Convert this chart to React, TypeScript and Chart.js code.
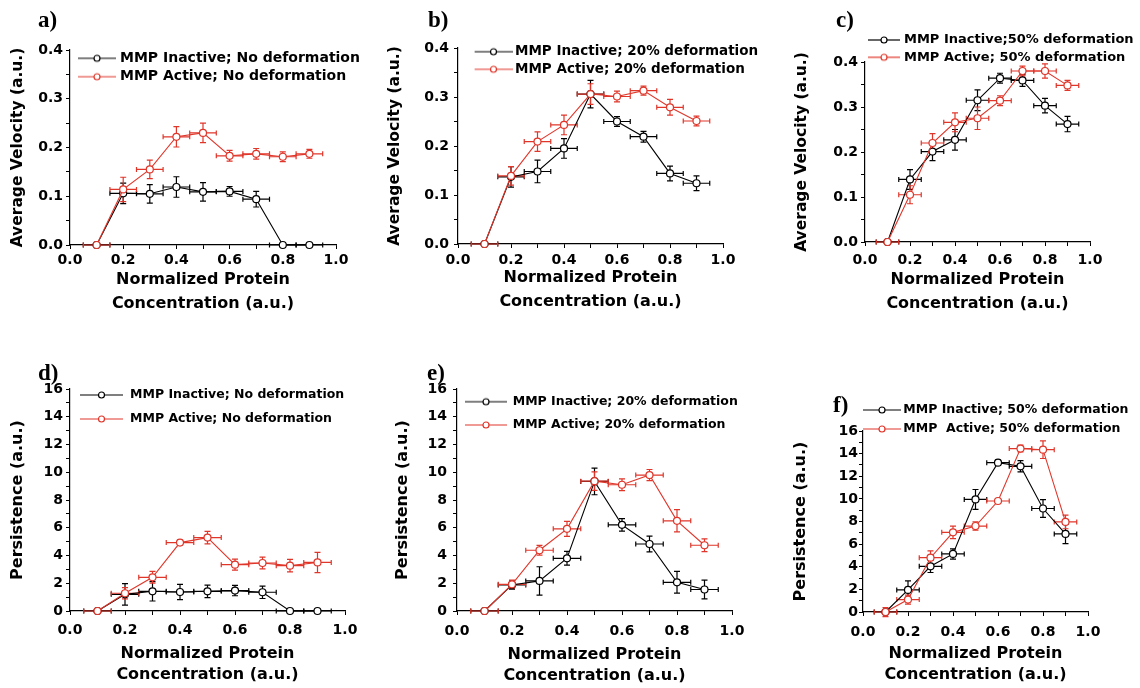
import React, { useEffect, useRef } from 'react';
import { Chart, registerables } from 'chart.js';

Chart.register(...registerables);

const FONT = "'DejaVu Sans', 'Liberation Sans', sans-serif";
const BLACK = '#000000';
const RED = '#e0362a';

// ---------- data ----------
const concentration = [0.1, 0.2, 0.3, 0.4, 0.5, 0.6, 0.7, 0.8, 0.9];
const concentrationErr = [0.05, 0.05, 0.05, 0.05, 0.05, 0.05, 0.05, 0.05, 0.05];

const concentrationTicks = ['0.0', '0.2', '0.4', '0.6', '0.8', '1.0'];
const velocityTicks = ['0.0', '0.1', '0.2', '0.3', '0.4'];
const persistenceTicks = ['0', '2', '4', '6', '8', '10', '12', '14', '16'];

// a) velocity, no deformation
const velNoDefInactive = [0, 0.106, 0.105, 0.119, 0.109, 0.110, 0.094, 0, 0];
const velNoDefInactiveErr = [0, 0.021, 0.019, 0.021, 0.019, 0.010, 0.016, 0, 0];
const velNoDefActive = [0, 0.114, 0.155, 0.222, 0.230, 0.183, 0.187, 0.181, 0.187];
const velNoDefActiveErr = [0, 0.025, 0.019, 0.021, 0.020, 0.011, 0.011, 0.010, 0.009];

// b) velocity, 20% deformation
const vel20Inactive = [0, 0.137, 0.148, 0.195, 0.306, 0.250, 0.219, 0.144, 0.124];
const vel20InactiveErr = [0, 0.021, 0.023, 0.020, 0.028, 0.010, 0.011, 0.015, 0.015];
const vel20Active = [0, 0.139, 0.209, 0.243, 0.306, 0.301, 0.313, 0.279, 0.251];
const vel20ActiveErr = [0, 0.019, 0.020, 0.020, 0.021, 0.011, 0.009, 0.016, 0.010];

// c) velocity, 50% deformation
const vel50Inactive = [0, 0.139, 0.201, 0.227, 0.315, 0.364, 0.359, 0.303, 0.262];
const vel50InactiveErr = [0, 0.022, 0.020, 0.023, 0.023, 0.011, 0.013, 0.016, 0.017];
const vel50Active = [0, 0.105, 0.220, 0.266, 0.275, 0.314, 0.380, 0.380, 0.348];
const vel50ActiveErr = [0, 0.020, 0.021, 0.021, 0.025, 0.011, 0.011, 0.016, 0.011];

// d) persistence, no deformation
const perNoDefInactive = [0, 1.2, 1.42, 1.37, 1.42, 1.47, 1.35, 0, 0];
const perNoDefInactiveErr = [0, 0.78, 0.7, 0.55, 0.45, 0.37, 0.45, 0, 0];
const perNoDefActive = [0, 1.28, 2.43, 4.93, 5.29, 3.34, 3.46, 3.27, 3.5];
const perNoDefActiveErr = [0, 0.4, 0.42, 0.18, 0.45, 0.4, 0.43, 0.45, 0.73];

// e) persistence, 20% deformation
const per20Inactive = [0, 1.88, 2.17, 3.8, 9.34, 6.21, 4.83, 2.07, 1.55];
const per20InactiveErr = [0, 0.3, 1.02, 0.5, 0.96, 0.45, 0.57, 0.78, 0.67];
const per20Active = [0, 1.92, 4.38, 5.92, 9.36, 9.1, 9.8, 6.5, 4.74];
const per20ActiveErr = [0, 0.3, 0.35, 0.54, 0.66, 0.42, 0.4, 0.8, 0.46];

// f) persistence, 50% deformation
const per50Inactive = [0, 1.95, 4.04, 5.13, 9.95, 13.2, 12.88, 9.15, 6.9];
const per50InactiveErr = [0, 0.8, 0.55, 0.45, 0.88, 0.22, 0.5, 0.78, 0.85];
const per50Active = [0, 1.1, 4.8, 7.04, 7.6, 9.81, 14.45, 14.35, 7.96];
const per50ActiveErr = [0.4, 0.4, 0.6, 0.55, 0.37, 0.15, 0.3, 0.78, 0.6];

// ---------- layout ----------
const Y_AXIS_W = 75;
const TICK_LEN = 4;
const TICK_FONT = 14;

type Series = { label: string; values: number[]; errors: number[]; color: string };
type Panel = {
  tag: string;
  tagPos: [number, number];
  L: number; R: number; T: number; B: number;
  yMax: number; yStep: number; yTicks: string[];
  yTitle: string; yTitleSize: number; yTitleGap: number; yTickGap: number;
  xTitleLH: number; xTitle2: number; xTickCenter: number;
  padTop: number; padRight: number;
  legend: { x0: number; Ll: number; g: number; yc1: number; s: number; f: number };
  series: Series[];
};

const panels: Panel[] = [
  {
    tag: 'a)', tagPos: [38, 8],
    L: 70, R: 336, T: 50, B: 245,
    yMax: 0.4, yStep: 0.05, yTicks: velocityTicks,
    yTitle: 'Average Velocity (a.u.)', yTitleSize: 15.5, yTitleGap: 52, yTickGap: 7,
    xTitleLH: 1.5, xTitle2: 59, xTickCenter: 15,
    padTop: 20, padRight: 30,
    legend: { x0: 78, Ll: 38, g: 4, yc1: 58.3, s: 18.4, f: 14 },
    series: [
      { label: 'MMP Inactive; No deformation', values: velNoDefInactive, errors: velNoDefInactiveErr, color: BLACK },
      { label: 'MMP Active; No deformation', values: velNoDefActive, errors: velNoDefActiveErr, color: RED },
    ],
  },
  {
    tag: 'b)', tagPos: [428, 8],
    L: 458, R: 723, T: 48, B: 244,
    yMax: 0.4, yStep: 0.05, yTicks: velocityTicks,
    yTitle: 'Average Velocity (a.u.)', yTitleSize: 15.5, yTitleGap: 63, yTickGap: 9,
    xTitleLH: 1.5, xTitle2: 58, xTickCenter: 16,
    padTop: 20, padRight: 40,
    legend: { x0: 474, Ll: 39, g: 2, yc1: 51.7, s: 17.6, f: 13.5 },
    series: [
      { label: 'MMP Inactive; 20% deformation', values: vel20Inactive, errors: vel20InactiveErr, color: BLACK },
      { label: 'MMP Active; 20% deformation', values: vel20Active, errors: vel20ActiveErr, color: RED },
    ],
  },
  {
    tag: 'c)', tagPos: [836, 8],
    L: 865, R: 1090, T: 62, B: 242,
    yMax: 0.4, yStep: 0.05, yTicks: velocityTicks,
    yTitle: 'Average Velocity (a.u.)', yTitleSize: 15.5, yTitleGap: 63, yTickGap: 7,
    xTitleLH: 1.5, xTitle2: 62, xTickCenter: 18,
    padTop: 34, padRight: 50,
    legend: { x0: 868, Ll: 32, g: 4, yc1: 40, s: 17.3, f: 13 },
    series: [
      { label: 'MMP Inactive;50% deformation', values: vel50Inactive, errors: vel50InactiveErr, color: BLACK },
      { label: 'MMP Active; 50% deformation', values: vel50Active, errors: vel50ActiveErr, color: RED },
    ],
  },
  {
    tag: 'd)', tagPos: [38, 361],
    L: 70, R: 345, T: 389, B: 611,
    yMax: 16, yStep: 1, yTicks: persistenceTicks,
    yTitle: 'Persistence (a.u.)', yTitleSize: 16, yTitleGap: 52, yTickGap: 7,
    xTitleLH: 1.3125, xTitle2: 63, xTickCenter: 19,
    padTop: 20, padRight: 25,
    legend: { x0: 80, Ll: 43, g: 7, yc1: 395, s: 24, f: 12.5 },
    series: [
      { label: 'MMP Inactive; No deformation', values: perNoDefInactive, errors: perNoDefInactiveErr, color: BLACK },
      { label: 'MMP Active; No deformation', values: perNoDefActive, errors: perNoDefActiveErr, color: RED },
    ],
  },
  {
    tag: 'e)', tagPos: [427, 361],
    L: 457, R: 732, T: 389, B: 611,
    yMax: 16, yStep: 1, yTicks: persistenceTicks,
    yTitle: 'Persistence (a.u.)', yTitleSize: 16, yTitleGap: 54, yTickGap: 10,
    xTitleLH: 1.3125, xTitle2: 64, xTickCenter: 20,
    padTop: 20, padRight: 25,
    legend: { x0: 465, Ll: 42, g: 5.7, yc1: 401.7, s: 23.3, f: 12.5 },
    series: [
      { label: 'MMP Inactive; 20% deformation', values: per20Inactive, errors: per20InactiveErr, color: BLACK },
      { label: 'MMP Active; 20% deformation', values: per20Active, errors: per20ActiveErr, color: RED },
    ],
  },
  {
    tag: 'f)', tagPos: [833, 393],
    L: 863, R: 1088, T: 431, B: 612,
    yMax: 16, yStep: 1, yTicks: persistenceTicks,
    yTitle: 'Persistence (a.u.)', yTitleSize: 16, yTitleGap: 62, yTickGap: 5,
    xTitleLH: 1.3125, xTitle2: 62, xTickCenter: 20,
    padTop: 35, padRight: 50,
    legend: { x0: 863, Ll: 38, g: 2.3, yc1: 410, s: 19, f: 12.5 },
    series: [
      { label: 'MMP Inactive; 50% deformation', values: per50Inactive, errors: per50InactiveErr, color: BLACK },
      { label: 'MMP  Active; 50% deformation', values: per50Active, errors: per50ActiveErr, color: RED },
    ],
  },
];

// ---------- plugins ----------
const errorBarPlugin = {
  id: 'errorBars',
  beforeDatasetsDraw(chart: any) {
    const { ctx } = chart;
    const xs = chart.scales.x;
    const ys = chart.scales.y;
    ctx.save();
    chart.data.datasets.forEach((ds: any) => {
      ctx.strokeStyle = ds.borderColor;
      ctx.lineWidth = 1.2;
      ds.data.forEach((pt: any, i: number) => {
        const px = xs.getPixelForValue(pt.x);
        const py = ys.getPixelForValue(pt.y);
        const xe = ds.xErr[i];
        const ye = ds.yErr[i];
        ctx.beginPath();
        if (xe > 0) {
          const x1 = xs.getPixelForValue(pt.x - xe);
          const x2 = xs.getPixelForValue(pt.x + xe);
          ctx.moveTo(x1, py); ctx.lineTo(x2, py);
          ctx.moveTo(x1, py - 2.5); ctx.lineTo(x1, py + 2.5);
          ctx.moveTo(x2, py - 2.5); ctx.lineTo(x2, py + 2.5);
        }
        if (ye > 0) {
          const y1 = ys.getPixelForValue(pt.y - ye);
          const y2 = ys.getPixelForValue(pt.y + ye);
          ctx.moveTo(px, y1); ctx.lineTo(px, y2);
          ctx.moveTo(px - 3, y1); ctx.lineTo(px + 3, y1);
          ctx.moveTo(px - 3, y2); ctx.lineTo(px + 3, y2);
        }
        ctx.stroke();
      });
    });
    ctx.restore();
  },
};

const legendPlacePlugin = {
  id: 'legendPlace',
  afterLayout(chart: any, _args: any, opts: any) {
    const lg = chart.legend;
    if (!lg || opts.left === undefined) return;
    const h = lg.height;
    lg.left = opts.left;
    lg.top = opts.top;
    lg.width = 2000;
    lg.right = opts.left + 2000;
    lg.bottom = opts.top + h;
  },
};

function makeIcon(color: string, width: number) {
  const c = document.createElement('canvas');
  c.width = Math.round(width);
  c.height = 10;
  const ctx = c.getContext('2d')!;
  ctx.strokeStyle = color;
  ctx.lineWidth = 1.2;
  ctx.beginPath();
  ctx.moveTo(0, 5);
  ctx.lineTo(c.width, 5);
  ctx.stroke();
  ctx.beginPath();
  ctx.arc(c.width / 2, 5, 3, 0, Math.PI * 2);
  ctx.fillStyle = '#ffffff';
  ctx.fill();
  ctx.stroke();
  return c;
}

function tickLabel(list: string[]) {
  return (value: any) => {
    const v = Number(value);
    const found = list.find((t) => Math.abs(parseFloat(t) - v) < 1e-6);
    return found ?? '';
  };
}

function PanelChart({ p }: { p: Panel }) {
  const ref = useRef<HTMLCanvasElement>(null);
  const cx = p.L - Y_AXIS_W;
  const xTitleSize = 16;
  const xlh = xTitleSize * p.xTitleLH;
  const H = Math.round(p.xTitle2 + xlh / 2);
  const w = Y_AXIS_W + (p.R - p.L) + p.padRight;
  const h = p.padTop + (p.B - p.T) + H;
  const cy = p.T - p.padTop;

  useEffect(() => {
    const canvas = ref.current;
    if (!canvas) return;
    const lg = p.legend;
    const pad = lg.s - lg.f;
    const W = lg.Ll + 2 * lg.g - lg.f;
    const boxLeft = lg.x0 + lg.Ll / 2 - W / 2;
    const legendLeft = boxLeft - pad - cx;
    const legendTop = lg.yc1 - pad - lg.f / 2 - cy;
    const icons = p.series.map((s) => makeIcon(s.color, lg.Ll));

    const datasets = p.series.map((s, i) => ({
      label: s.label,
      data: concentration.map((x, k) => ({ x, y: s.values[k] })),
      xErr: concentrationErr,
      yErr: s.errors,
      borderColor: s.color,
      backgroundColor: s.color,
      borderWidth: 1.1,
      pointRadius: 3.5,
      pointBorderWidth: 1.2,
      pointBackgroundColor: '#ffffff',
      pointBorderColor: s.color,
      tension: 0,
      clip: false as any,
      order: i === 0 ? 1 : 0,
    }));

    const yTitleLH = p.yTitleSize * 1.2;
    const tickFont = { family: FONT, weight: 'bold' as const, size: TICK_FONT };

    const chart = new Chart(canvas, {
      type: 'line',
      data: { datasets: datasets as any },
      plugins: [errorBarPlugin, legendPlacePlugin],
      options: {
        responsive: false,
        animation: false,
        events: [],
        layout: { padding: { top: p.padTop, right: p.padRight, left: 0, bottom: 0 } },
        scales: {
          x: {
            type: 'linear',
            min: 0,
            max: 1,
            afterFit: (s: any) => { s.height = H; },
            ticks: {
              stepSize: 0.1,
              autoSkip: false,
              maxRotation: 0,
              minRotation: 0,
              padding: p.xTickCenter - TICK_LEN - (TICK_FONT * 1.2) / 2,
              color: BLACK,
              font: tickFont,
              callback: tickLabel(concentrationTicks),
            },
            grid: { display: true, drawOnChartArea: false, drawTicks: true, tickLength: TICK_LEN, color: BLACK, lineWidth: 1 },
            border: { display: true, color: BLACK, width: 1.2 },
            title: {
              display: true,
              text: ['Normalized Protein', 'Concentration (a.u.)'],
              color: BLACK,
              font: { family: FONT, weight: 'bold', size: xTitleSize, lineHeight: p.xTitleLH },
              padding: { top: 0, bottom: 0 },
            },
          },
          y: {
            type: 'linear',
            min: 0,
            max: p.yMax,
            afterFit: (s: any) => { s.width = Y_AXIS_W; },
            ticks: {
              stepSize: p.yStep,
              autoSkip: false,
              padding: p.yTickGap - TICK_LEN,
              color: BLACK,
              font: tickFont,
              callback: tickLabel(p.yTicks),
            },
            grid: { display: true, drawOnChartArea: false, drawTicks: true, tickLength: TICK_LEN, color: BLACK, lineWidth: 1 },
            border: { display: true, color: BLACK, width: 1.2 },
            title: {
              display: true,
              text: p.yTitle,
              color: BLACK,
              font: { family: FONT, weight: 'bold', size: p.yTitleSize, lineHeight: 1.2 },
              padding: { top: Y_AXIS_W - p.yTitleGap - yTitleLH / 2, bottom: 0 },
            },
          },
        },
        plugins: {
          tooltip: { enabled: false },
          title: { display: false },
          legend: {
            display: true,
            position: 'chartArea' as any,
            align: 'start',
            labels: {
              usePointStyle: true,
              pointStyleWidth: W,
              padding: pad,
              color: BLACK,
              font: { family: FONT, weight: 'bold', size: lg.f },
              generateLabels: (ch: any) =>
                ch.data.datasets.map((ds: any, i: number) => ({
                  text: ds.label,
                  pointStyle: icons[i],
                  fillStyle: '#ffffff',
                  strokeStyle: ds.borderColor,
                  lineWidth: 0,
                  hidden: false,
                  datasetIndex: i,
                  fontColor: BLACK,
                })),
            },
          },
          legendPlace: { left: legendLeft, top: legendTop },
        } as any,
      },
    });
    return () => chart.destroy();
  }, []);

  return (
    <canvas
      ref={ref}
      width={w}
      height={h}
      style={{ position: 'absolute', left: cx, top: cy, width: w, height: h }}
    />
  );
}

export default function App() {
  return (
    <div
      style={{
        position: 'absolute',
        left: 0,
        top: 0,
        width: 1140,
        height: 688,
        background: '#ffffff',
        overflow: 'hidden',
      }}
    >
      {panels.map((p) => (
        <PanelChart key={p.tag} p={p} />
      ))}
      {panels.map((p) => (
        <div
          key={'tag' + p.tag}
          style={{
            position: 'absolute',
            left: p.tagPos[0],
            top: p.tagPos[1],
            font: "bold 23px 'Liberation Serif', serif",
            lineHeight: '23px',
            color: '#000',
          }}
        >
          {p.tag}
        </div>
      ))}
    </div>
  );
}
